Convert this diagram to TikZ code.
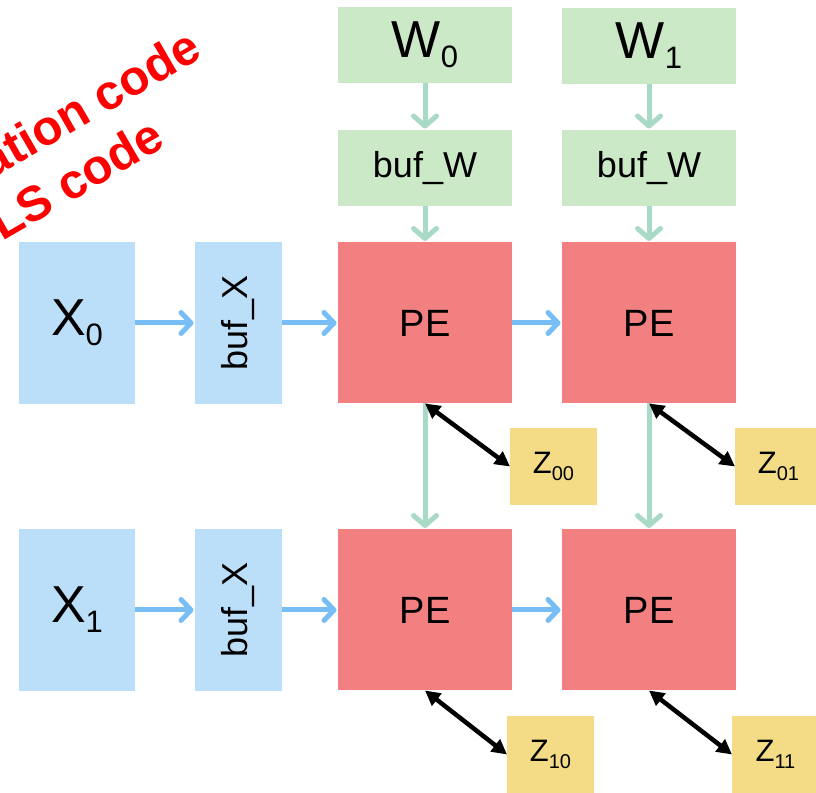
\documentclass[tikz,border=0pt]{standalone}
\usepackage{fontspec}
\setmainfont{Liberation Sans}
\usetikzlibrary{arrows.meta}
\definecolor{bxblue}{HTML}{BBDEF9}
\definecolor{bxgreen}{HTML}{CCE9C7}
\definecolor{bxred}{HTML}{F38080}
\definecolor{bxyellow}{HTML}{F4DC86}
\definecolor{arblue}{HTML}{78BEF5}
\definecolor{argreen}{HTML}{A8DAC6}
\newcommand\mainsub[2]{{\fontsize{52}{52}\selectfont #1\raisebox{-10pt}{\fontsize{31}{31}\selectfont #2}}}
\newcommand\zsub[2]{{\fontsize{31}{31}\selectfont #1\raisebox{-7pt}{\fontsize{20}{20}\selectfont #2}}}
\begin{document}
\begin{tikzpicture}[x=1pt,y=1pt,
  box/.style={inner sep=0pt,outer sep=0pt,draw=none},
  xbox/.style={box,fill=bxblue,minimum width=116pt,minimum height=162pt},
  bxbox/.style={box,fill=bxblue,minimum width=87pt,minimum height=162pt},
  wbox/.style={box,fill=bxgreen,minimum width=174pt,minimum height=76pt},
  pebox/.style={box,fill=bxred,minimum width=174pt,minimum height=161pt,font=\fontsize{38}{38}\selectfont},
  zbox/.style={box,fill=bxyellow,minimum width=87pt,minimum height=77pt},
  bufw/.style={font=\fontsize{36}{36}\selectfont},
  barrow/.style={draw=arblue,line width=5pt,shorten >=1.5pt,-{Straight Barb[length=10pt,width=21pt,round]}},
  garrow/.style={draw=argreen,line width=5pt,shorten >=1.5pt,-{Straight Barb[length=10pt,width=23pt,round]}},
  karrow/.style={draw=black,line width=4.5pt,{Triangle[length=15pt,width=15pt]}-{Triangle[length=15pt,width=15pt]}},
  note/.style={text=red,font=\bfseries\fontsize{49}{59}\selectfont,align=center,rotate=30}
]
\useasboundingbox (0,0) rectangle (816,792);
\fill[white] (0,0) rectangle (816,792);

\node[note] (note) at (46,630) {Simulation code\\HLS code};

\node[wbox] (w0) at (425,747) {\mainsub{W}{0}};
\node[wbox] (w1) at (649,746) {\mainsub{W}{1}};
\node[wbox,bufw] (bw0) at (425,624) {buf\_W};
\node[wbox,bufw] (bw1) at (649,624) {buf\_W};

\node[xbox] (x0) at (77,469) {\mainsub{X}{0}};
\node[xbox] (x1) at (77,182) {\mainsub{X}{1}};
\node[bxbox,label={[rotate=90,font=\fontsize{36}{36}\selectfont]center:buf\_X}] (bx0) at (238.5,469) {};
\node[bxbox,label={[rotate=90,font=\fontsize{36}{36}\selectfont]center:buf\_X}] (bx1) at (238.5,182) {};

\node[pebox] (p00) at (425,469) {PE};
\node[pebox] (p01) at (649,469) {PE};
\node[pebox] (p10) at (425,182) {PE};
\node[pebox] (p11) at (649,182) {PE};

\node[zbox] (z00) at (553.5,325.5) {\zsub{Z}{00}};
\node[zbox] (z01) at (778.5,325.5) {\zsub{Z}{01}};
\node[zbox] (z10) at (550.5,37.5) {\zsub{Z}{10}};
\node[zbox] (z11) at (775.5,37.5) {\zsub{Z}{11}};

\draw[barrow] (x0) -- (bx0);
\draw[barrow] (bx0) -- (p00);
\draw[barrow] (p00) -- (p01);
\draw[barrow] (x1) -- (bx1);
\draw[barrow] (bx1) -- (p10);
\draw[barrow] (p10) -- (p11);

\draw[garrow] (w0) -- (bw0);
\draw[garrow] (bw0) -- (p00);
\draw[garrow] (w1) -- (bw1);
\draw[garrow] (bw1) -- (p01);
\draw[garrow] (p00) -- (p10);
\draw[garrow] (p01) -- (p11);

\draw[karrow] (p00.south) -- (z00.west);
\draw[karrow] (p01.south) -- (z01.west);
\draw[karrow] (p10.south) -- (z10.west);
\draw[karrow] (p11.south) -- (z11.west);
\end{tikzpicture}
\end{document}
